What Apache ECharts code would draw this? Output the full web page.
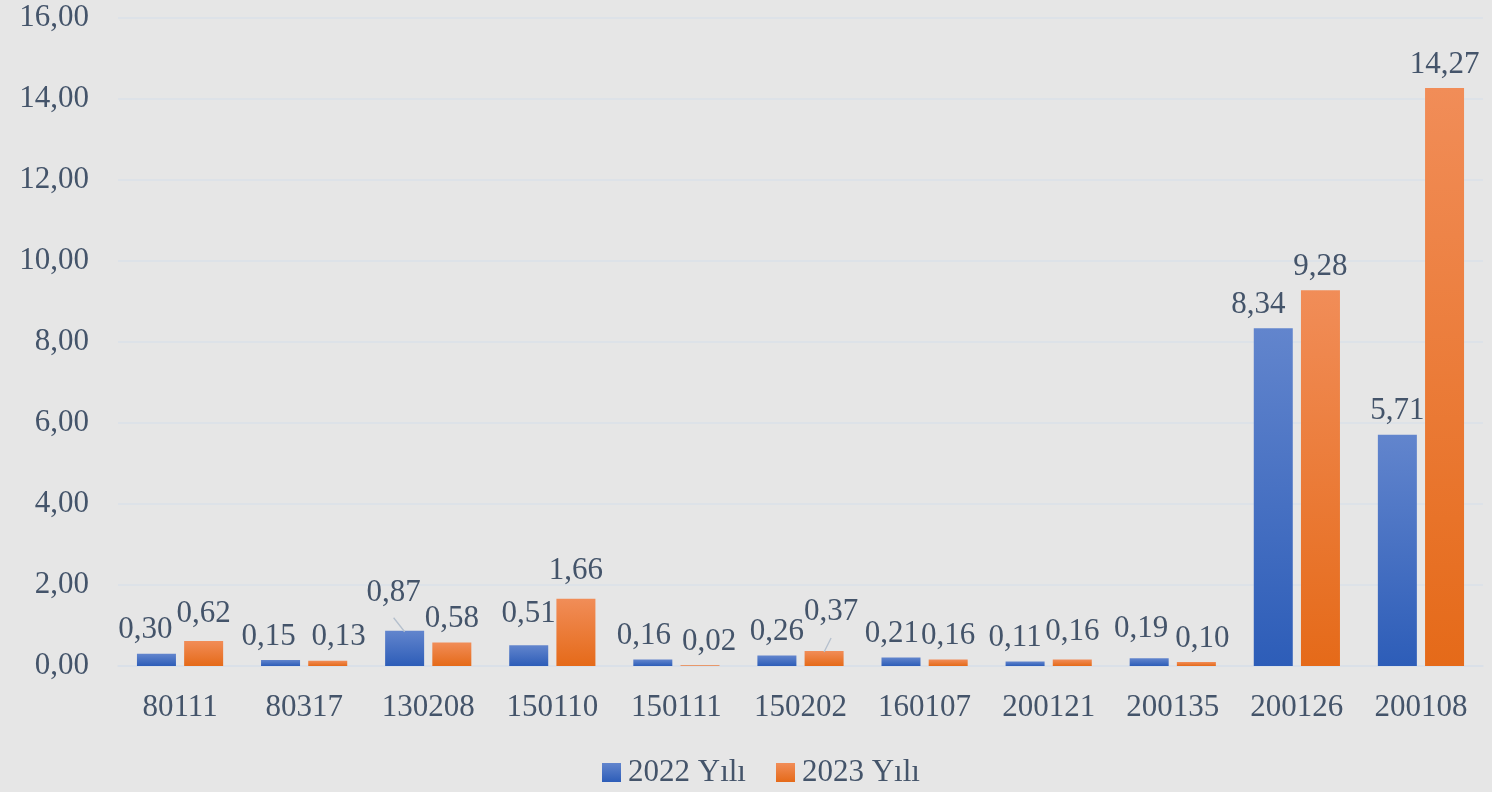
<!DOCTYPE html>
<html>
<head>
<meta charset="utf-8">
<script src="https://cdn.jsdelivr.net/npm/echarts@6/dist/echarts.min.js"></script>
<style>
  html, body { margin: 0; padding: 0; background: #e6e6e6; }
  #chart { width: 1492px; height: 792px; }
</style>
</head>
<body>
<div id="chart"></div>
<script>
// Product codes on the x axis
const categories = ['80111', '80317', '130208', '150110', '150111', '150202', '160107', '200121', '200135', '200126', '200108'];
// Yearly values per code
const values2022 = [0.30, 0.15, 0.87, 0.51, 0.16, 0.26, 0.21, 0.11, 0.19, 8.34, 5.71];
const values2023 = [0.62, 0.13, 0.58, 1.66, 0.02, 0.37, 0.16, 0.16, 0.10, 9.28, 14.27];
const seriesNames = ['2022 Yılı', '2023 Yılı'];
const yTicks = [0, 2, 4, 6, 8, 10, 12, 14, 16];

// Small label nudges so neighbouring value labels do not collide: [dx, dy]
const nudge2022 = [[-11, 0], [-12, 0], [-11, -14], [0, -8], [-9, 0], [0, 0], [-9, 0], [-10, 0], [-8, -6], [-15, 0], [0, 0]];
const nudge2023 = [[0, -4], [11, 0], [0, 0], [0, -4], [9, 0], [7, -16], [0, 0], [0, -4], [6, 0], [0, 0], [0, 0]];
// Labels that get a leader line back to their bar
const leader2022 = [2];
const leader2023 = [5];

const textColor = '#44546a';
const font = '"Liberation Serif", "DejaVu Serif", serif';
const fmt = v => Number(v).toFixed(2).replace('.', ',');

function grad(top, bottom) {
  return new echarts.graphic.LinearGradient(0, 0, 0, 1, [
    { offset: 0, color: top },
    { offset: 1, color: bottom }
  ]);
}

function layoutFor(nudges) {
  return p => ({ dx: nudges[p.dataIndex][0], dy: nudges[p.dataIndex][1] });
}

const chart = echarts.init(document.getElementById('chart'), null, { renderer: 'canvas' });

const labelStyle = {
  show: true,
  position: 'top',
  distance: 8,
  color: textColor,
  fontFamily: font,
  fontSize: 31,
  formatter: p => fmt(p.value)
};

chart.setOption({
  backgroundColor: '#e6e6e6',
  animation: false,
  textStyle: { fontFamily: font, color: textColor },
  grid: { left: 118, right: 9, top: 18, bottom: 126, containLabel: false },
  legend: {
    data: seriesNames,
    bottom: -1,
    left: 597,
    itemWidth: 19,
    itemHeight: 19,
    itemGap: 30,
    icon: 'rect',
    textStyle: { color: textColor, fontFamily: font, fontSize: 31, padding: [0, 0, 0, 2] }
  },
  xAxis: {
    type: 'category',
    data: categories,
    axisLine: { show: true, lineStyle: { color: '#d9dfe7', width: 1.5 } },
    axisTick: { show: false },
    axisLabel: { color: textColor, fontFamily: font, fontSize: 31, margin: 26 }
  },
  yAxis: {
    type: 'value',
    min: yTicks[0],
    max: yTicks[yTicks.length - 1],
    interval: yTicks[1] - yTicks[0],
    axisLine: { show: false },
    axisTick: { show: false },
    splitLine: { lineStyle: { color: '#dae0e8', width: 1.5 } },
    axisLabel: { color: textColor, fontFamily: font, fontSize: 31, margin: 29, formatter: fmt }
  },
  series: [
    {
      name: seriesNames[0],
      type: 'bar',
      data: values2022,
      barWidth: 39,
      barGap: '21%',
      itemStyle: { color: grad('#6285cd', '#2d5db8') },
      label: labelStyle,
      labelLayout: layoutFor(nudge2022)
    },
    {
      name: seriesNames[1],
      type: 'bar',
      data: values2023,
      barWidth: 39,
      itemStyle: { color: grad('#f18d58', '#e56a19') },
      label: labelStyle,
      labelLayout: layoutFor(nudge2023)
    }
  ]
});

// Leader lines from the shifted labels back to the top centre of their bars,
// taken from the bar layout the chart has just computed.
function leaderLines(seriesIndex, leaders, nudges) {
  const data = chart.getModel().getSeriesByIndex(seriesIndex).getData();
  return leaders.map(i => {
    const r = data.getItemLayout(i);
    const cx = r.x + r.width / 2;
    const top = Math.min(r.y, r.y + r.height);
    return {
      type: 'line',
      z: 100,
      shape: { x1: cx + nudges[i][0], y1: top - 13, x2: cx, y2: top + 1 },
      style: { stroke: '#b4bfcd', lineWidth: 1.3 },
      silent: true
    };
  });
}

chart.setOption({
  graphic: leaderLines(0, leader2022, nudge2022).concat(leaderLines(1, leader2023, nudge2023))
});
</script>
</body>
</html>
